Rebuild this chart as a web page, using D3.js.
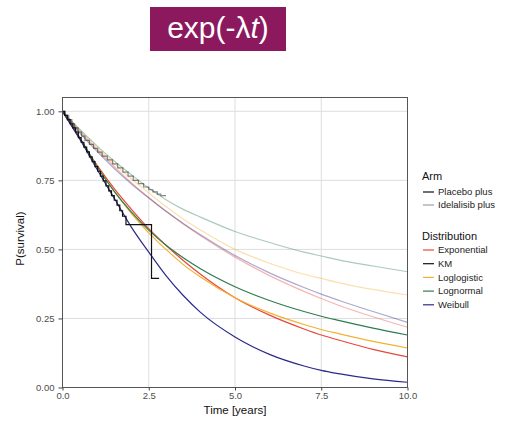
<!DOCTYPE html>
<html>
<head>
<meta charset="utf-8">
<script src="https://cdn.jsdelivr.net/npm/d3@7"></script>
<style>
  html, body { margin: 0; padding: 0; background: #fff; }
  svg { display: block; font-family: "Liberation Sans", Arial, sans-serif; }
</style>
</head>
<body>
<svg id="chart" width="506" height="422"></svg>
<script>
// Fitted survival curves, evaluated at these times (years)
const fitTimes = [0, 0.5, 1, 1.5, 2, 2.5, 3, 3.5, 4, 5, 6, 7, 7.5, 8, 9, 10];

// Placebo plus arm
const placeboExponential = [1, 0.90, 0.805, 0.72, 0.645, 0.575, 0.515, 0.46, 0.41, 0.325, 0.262, 0.212, 0.19, 0.172, 0.138, 0.111];
const placeboLoglogistic = [1, 0.905, 0.80, 0.71, 0.63, 0.56, 0.50, 0.445, 0.40, 0.325, 0.27, 0.228, 0.21, 0.195, 0.167, 0.143];
const placeboLognormal   = [1, 0.905, 0.80, 0.71, 0.635, 0.57, 0.515, 0.47, 0.43, 0.365, 0.315, 0.275, 0.258, 0.243, 0.215, 0.19];
const placeboWeibull     = [1, 0.90, 0.79, 0.685, 0.58, 0.49, 0.405, 0.333, 0.272, 0.183, 0.12, 0.078, 0.062, 0.05, 0.031, 0.019];

// Idelalisib plus arm
const ideExponential = [1, 0.928, 0.861, 0.80, 0.741, 0.688, 0.638, 0.592, 0.549, 0.472, 0.405, 0.348, 0.322, 0.298, 0.256, 0.218];
const ideLoglogistic = [1, 0.93, 0.868, 0.81, 0.755, 0.705, 0.655, 0.61, 0.57, 0.50, 0.45, 0.41, 0.395, 0.38, 0.355, 0.335];
const ideLognormal   = [1, 0.935, 0.875, 0.82, 0.77, 0.722, 0.68, 0.645, 0.617, 0.565, 0.525, 0.49, 0.476, 0.462, 0.44, 0.419];
const ideWeibull     = [1, 0.922, 0.855, 0.793, 0.737, 0.686, 0.638, 0.594, 0.553, 0.478, 0.415, 0.362, 0.338, 0.316, 0.275, 0.236];

// Kaplan-Meier estimates (step functions)
const kmPlaceboTime = [0, 0.06, 0.14, 0.22, 0.3, 0.38, 0.46, 0.54, 0.62, 0.7, 0.78, 0.86, 0.94, 1.02, 1.1, 1.18, 1.26, 1.34, 1.42, 1.5, 1.58, 1.66, 1.74, 1.84, 2.58, 2.8];
const kmPlaceboSurv = [1, 0.985, 0.97, 0.955, 0.94, 0.925, 0.905, 0.888, 0.87, 0.853, 0.835, 0.818, 0.80, 0.783, 0.765, 0.748, 0.73, 0.712, 0.695, 0.678, 0.66, 0.64, 0.62, 0.59, 0.395, 0.395];
const kmIdeTime = [0, 0.08, 0.18, 0.27, 0.35, 0.45, 0.55, 0.65, 0.78, 0.9, 1.02, 1.15, 1.3, 1.45, 1.6, 1.75, 1.9, 2.05, 2.2, 2.35, 2.5, 2.62, 2.75, 2.85, 3.0];
const kmIdeSurv = [1, 0.985, 0.97, 0.955, 0.94, 0.925, 0.91, 0.895, 0.88, 0.866, 0.852, 0.838, 0.824, 0.81, 0.795, 0.78, 0.765, 0.75, 0.738, 0.726, 0.716, 0.708, 0.70, 0.695, 0.695];

const arms = ["Placebo plus", "Idelalisib plus"];
const distributions = ["Exponential", "KM", "Loglogistic", "Lognormal", "Weibull"];
const distColors = ["#e8483a", "#111111", "#f2b134", "#2e7d4f", "#2b2b8a"];
const armOpacity = [1, 0.4];

const xTicks = [0, 2.5, 5, 7.5, 10];
const yTicks = [0, 0.25, 0.5, 0.75, 1];

const svg = d3.select("#chart");

// Title banner
svg.append("rect").attr("x", 150).attr("y", 7).attr("width", 136).attr("height", 44).attr("fill", "#8c195e");
const title = svg.append("text").attr("x", 218).attr("y", 38).attr("text-anchor", "middle")
  .attr("fill", "#fff").attr("font-size", 30);
title.append("tspan").text("exp(-λ");
title.append("tspan").attr("font-style", "italic").text("t");
title.append("tspan").text(")");

// Panel geometry
const pLeft = 62.5, pRight = 407.5, pTop = 97.5, pBottom = 387.5;
const x = d3.scaleLinear().domain([0, 10]).range([pLeft, pRight]);
const y = d3.scaleLinear().domain([0, 1.05]).range([pBottom, pTop]);

const g = svg.append("g");

// Grid lines
g.selectAll("line.gx").data(xTicks).join("line")
  .attr("x1", d => x(d)).attr("x2", d => x(d)).attr("y1", pTop).attr("y2", pBottom)
  .attr("stroke", "#dedede").attr("stroke-width", 1);
g.selectAll("line.gy").data(yTicks).join("line")
  .attr("y1", d => y(d)).attr("y2", d => y(d)).attr("x1", pLeft).attr("x2", pRight)
  .attr("stroke", "#dedede").attr("stroke-width", 1);

// Curves, clipped to the panel
const clipId = "panel-clip";
svg.append("clipPath").attr("id", clipId).append("rect")
  .attr("x", pLeft).attr("y", pTop).attr("width", pRight - pLeft).attr("height", pBottom - pTop);
const curves = g.append("g").attr("clip-path", `url(#${clipId})`);

const fitLine = d3.line().x(d => x(d[0])).y(d => y(d[1])).curve(d3.curveMonotoneX);
const kmLine = d3.line().x(d => x(d[0])).y(d => y(d[1])).curve(d3.curveStepAfter);

const fits = [
  { arm: 1, dist: "Exponential", vals: ideExponential },
  { arm: 1, dist: "Loglogistic", vals: ideLoglogistic },
  { arm: 1, dist: "Lognormal", vals: ideLognormal },
  { arm: 1, dist: "Weibull", vals: ideWeibull },
  { arm: 0, dist: "Exponential", vals: placeboExponential },
  { arm: 0, dist: "Loglogistic", vals: placeboLoglogistic },
  { arm: 0, dist: "Lognormal", vals: placeboLognormal },
  { arm: 0, dist: "Weibull", vals: placeboWeibull }
];
const colorOf = d => distColors[distributions.indexOf(d)];

curves.selectAll("path.fit").data(fits).join("path")
  .attr("d", f => fitLine(fitTimes.map((t, i) => [t, f.vals[i]])))
  .attr("fill", "none").attr("stroke", f => colorOf(f.dist))
  .attr("stroke-opacity", f => armOpacity[f.arm]).attr("stroke-width", 1.2);

const kms = [
  { arm: 1, t: kmIdeTime, s: kmIdeSurv },
  { arm: 0, t: kmPlaceboTime, s: kmPlaceboSurv }
];
curves.selectAll("path.km").data(kms).join("path")
  .attr("d", k => kmLine(k.t.map((t, i) => [t, k.s[i]])))
  .attr("fill", "none").attr("stroke", colorOf("KM"))
  .attr("stroke-opacity", k => armOpacity[k.arm] === 1 ? 1 : 0.5).attr("stroke-width", 1.2);

// Panel border
g.append("rect").attr("x", pLeft).attr("y", pTop).attr("width", pRight - pLeft).attr("height", pBottom - pTop)
  .attr("fill", "none").attr("stroke", "#555").attr("stroke-width", 1);

// Axes
const xAxis = d3.axisBottom(x).tickValues(xTicks).tickFormat(d3.format(".1f")).tickSize(3).tickPadding(2);
const yAxis = d3.axisLeft(y).tickValues(yTicks).tickFormat(d3.format(".2f")).tickSize(4).tickPadding(4);
const gx = svg.append("g").attr("transform", `translate(0,${pBottom})`).call(xAxis);
const gy = svg.append("g").attr("transform", `translate(${pLeft},0)`).call(yAxis);
[gx, gy].forEach(a => {
  a.select(".domain").remove();
  a.selectAll(".tick line").attr("stroke", "#444");
  a.selectAll(".tick text").attr("fill", "#4d4d4d").attr("font-size", 9.5)
    .attr("font-family", "Liberation Sans, Arial, sans-serif");
});

svg.append("text").attr("x", (pLeft + pRight) / 2).attr("y", 414).attr("text-anchor", "middle")
  .attr("font-size", 11.5).attr("fill", "#111").text("Time [years]");
svg.append("text").attr("transform", `translate(24,${(pTop + pBottom) / 2 - 4}) rotate(-90)`)
  .attr("text-anchor", "middle").attr("font-size", 11.5).attr("fill", "#111").text("P(survival)");

// Legends
const legend = svg.append("g").attr("font-size", 9.5);
legend.append("text").attr("x", 422).attr("y", 180).attr("font-size", 11).attr("fill", "#111").text("Arm");
arms.forEach((a, i) => {
  const yy = 192 + i * 13;
  legend.append("line").attr("x1", 423).attr("x2", 434).attr("y1", yy).attr("y2", yy)
    .attr("stroke", "#111").attr("stroke-opacity", armOpacity[i]).attr("stroke-width", 1.2);
  legend.append("text").attr("x", 438).attr("y", yy + 3.3).attr("fill", "#222").text(a);
});
legend.append("text").attr("x", 422).attr("y", 240).attr("font-size", 11).attr("fill", "#111").text("Distribution");
distributions.forEach((d, i) => {
  const yy = 250 + i * 13.7;
  legend.append("line").attr("x1", 423).attr("x2", 434).attr("y1", yy).attr("y2", yy)
    .attr("stroke", distColors[i]).attr("stroke-width", 1.2);
  legend.append("text").attr("x", 438).attr("y", yy + 3.3).attr("fill", "#222").text(d);
});
</script>
</body>
</html>
